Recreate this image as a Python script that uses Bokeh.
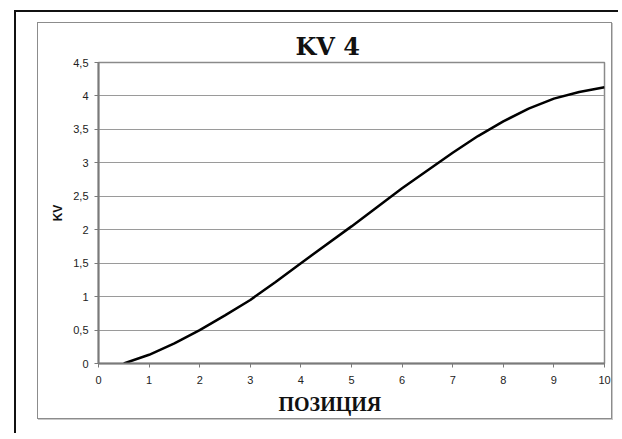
from bokeh.plotting import figure
from bokeh.layouts import column
from bokeh.models import Range1d, FixedTicker, Title
from bokeh.embed import file_html
from bokeh.resources import INLINE

# data
pos = [0.5, 1, 1.5, 2, 2.5, 3, 3.5, 4, 5, 6, 7, 7.5, 8, 8.5, 9, 9.5, 10]
kv = [0.0, 0.13, 0.30, 0.50, 0.72, 0.95, 1.22, 1.50, 2.05, 2.62, 3.15, 3.40, 3.62, 3.81, 3.96, 4.06, 4.13]
x_ticks = [0, 1, 2, 3, 4, 5, 6, 7, 8, 9, 10]
y_ticks = [0, 0.5, 1, 1.5, 2, 2.5, 3, 3.5, 4, 4.5]
y_tick_labels = ["0", "0,5", "1", "1,5", "2", "2,5", "3", "3,5", "4", "4,5"]
title_text = "KV 4"
x_label = "ПОЗИЦИЯ"
y_label = "KV"

p = figure(width=575, height=397, output_backend="svg", toolbar_location=None,
           x_range=Range1d(0, 10), y_range=Range1d(0, 4.5),
           min_border_left=60, min_border_right=9, min_border_top=39, min_border_bottom=57,
           styles={"border": "1px solid #8c8c8c", "box-shadow": "1px 1px 0 #c8c8c8"})

p.background_fill_color = "white"
p.border_fill_color = "white"
p.outline_line_color = "#8a8a8a"
p.outline_line_width = 1.5

# title
p.title.text = title_text
p.title.align = "left"
p.title.offset = 197
p.title.text_font = "DejaVu Serif"
p.title.text_font_style = "bold"
p.title.text_font_size = "24px"
p.title.text_color = "#111111"
p.title.standoff = 4

# grid
p.xgrid.visible = False
p.ygrid.grid_line_color = "#9a9a9a"
p.ygrid.grid_line_width = 1
p.ygrid.ticker = FixedTicker(ticks=y_ticks)

# axes
for ax in (p.xaxis[0], p.yaxis[0]):
    ax.axis_line_color = "#7a7a7a"
    ax.axis_line_width = 2
    ax.major_tick_line_color = "#7a7a7a"
    ax.major_tick_out = 4
    ax.major_tick_in = 0
    ax.minor_tick_line_color = None
    ax.major_label_text_font = "Liberation Sans"
    ax.major_label_text_font_size = "11px"
    ax.major_label_text_color = "#222222"

p.xaxis.ticker = FixedTicker(ticks=x_ticks)
p.xaxis.major_label_standoff = 8

# x-axis title (centred on the whole chart area, as in the original)
p.add_layout(Title(text=x_label, align="left", offset=180,
                   text_font="Liberation Serif", text_font_style="bold",
                   text_font_size="20px", text_color="#111111", standoff=9), "below")

p.yaxis.ticker = FixedTicker(ticks=y_ticks)
p.yaxis.major_label_overrides = {t: s for t, s in zip(y_ticks, y_tick_labels)}
p.yaxis.major_label_standoff = 6
p.yaxis.axis_label = y_label
p.yaxis.axis_label_text_font = "Liberation Sans"
p.yaxis.axis_label_text_font_style = "bold"
p.yaxis.axis_label_text_font_size = "12px"
p.yaxis.axis_label_text_color = "#111111"
p.yaxis.axis_label_standoff = 5

# curve
p.line(pos, kv, line_color="black", line_width=2.5)

wrap = column(p, styles={
    "margin-left": "14px", "margin-top": "10px",
    "border-top": "2px solid #111", "border-left": "2px solid #111",
    "padding-left": "21px", "padding-top": "10px",
    "padding-right": "6px", "padding-bottom": "14px",
})

open("out.html", "w").write(file_html(wrap, INLINE))
